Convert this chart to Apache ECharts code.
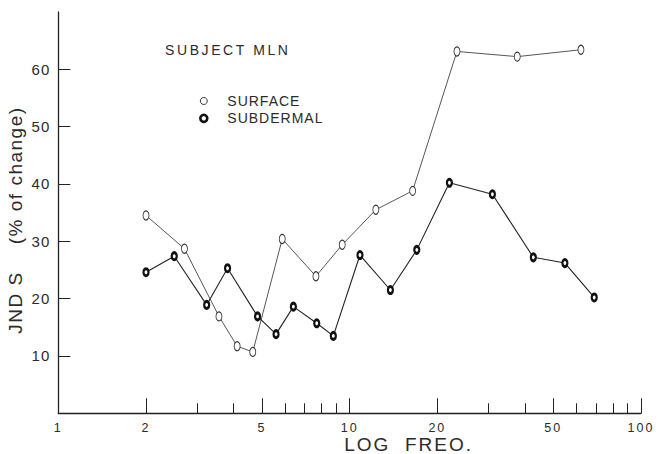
<!DOCTYPE html>
<html>
<head>
<meta charset="utf-8">
<script src="https://cdn.jsdelivr.net/npm/echarts@6/dist/echarts.min.js"></script>
<style>
html,body{margin:0;padding:0;background:#fff;}
#c{width:660px;height:454px;}
#c text{white-space:pre;}
</style>
</head>
<body>
<div id="c"></div>
<script>
// ---- data ----
const surfaceFreq = [2.0, 2.71, 3.56, 4.11, 4.65, 5.87, 7.66, 9.43, 12.3, 16.45, 23.35, 37.6, 62.2];
const surfaceJnd  = [34.5, 28.7, 16.9, 11.7, 10.7, 30.4, 23.9, 29.4, 35.5, 38.8, 63.1, 62.2, 63.4];
const subdermalFreq = [2.0, 2.50, 3.23, 3.81, 4.83, 5.59, 6.41, 7.71, 8.79, 10.85, 13.8, 17.0, 22.0, 30.9, 42.7, 54.8, 69.1];
const subdermalJnd  = [24.6, 27.4, 18.9, 25.3, 16.9, 13.8, 18.6, 15.7, 13.5, 27.6, 21.5, 28.5, 40.2, 38.2, 27.2, 26.2, 20.2];
const xLabelValues = [1, 2, 5, 10, 20, 50, 100];
const xMajorTicks = [2, 5, 10, 20, 50, 100];
const xMinorTicks = [3, 4, 6, 7, 8, 9, 30, 40, 60, 70, 80, 90];
const yTickValues = [10, 20, 30, 40, 50, 60];
const seriesNames = ['SURFACE', 'SUBDERMAL'];
const titleText = 'SUBJECT MLN';
const xName = 'LOG  FREO.';
const yName = 'JND S    (% of change)';

const FONT = 'Liberation Sans';
const INK = '#2b2b2b';
const LINE = '#222';

const surfaceStyle = { color: '#fff', borderColor: '#333', borderWidth: 1 };
const subdermalStyle = { color: '#fff', borderColor: '#111', borderWidth: 2.6 };

const chart = echarts.init(document.getElementById('c'), null, { renderer: 'svg' });

const option = {
  animation: false,
  backgroundColor: '#fff',
  textStyle: { fontFamily: FONT },
  title: {
    text: titleText, left: 165, top: 43, padding: 0,
    textStyle: { fontSize: 14, fontWeight: 'normal', color: INK, fontFamily: FONT }
  },
  legend: {
    orient: 'vertical', left: 199, top: 94, padding: 0,
    itemWidth: 7, itemHeight: 10, itemGap: 3.3, symbolKeepAspect: false,
    selectedMode: false,
    textStyle: { fontSize: 14, color: INK, fontFamily: FONT, padding: [0, 0, 0, 15] },
    data: [
      { name: seriesNames[0], icon: 'circle', itemStyle: surfaceStyle },
      { name: seriesNames[1], icon: 'circle', itemStyle: subdermalStyle }
    ]
  },
  grid: { left: 58.3, right: 19, top: 11.9, bottom: 40.7, containLabel: false, outerBoundsMode: 'none' },
  xAxis: [
    {
      type: 'log', logBase: 10, min: 1, max: 100, position: 'bottom',
      name: xName, nameLocation: 'middle', nameGap: 22, nameMoveOverlap: false,
      nameTextStyle: { fontSize: 19, color: INK, fontFamily: FONT, padding: [0, 0, 0, 118] },
      axisLine: { show: true, lineStyle: { color: LINE, width: 1.3 } },
      axisTick: { show: true, inside: true, length: 15, customValues: xMajorTicks, lineStyle: { color: LINE, width: 1 } },
      axisLabel: { show: true, customValues: xLabelValues, margin: 8, fontSize: 12.5, color: INK, fontFamily: FONT },
      splitLine: { show: false }, minorTick: { show: false }, minorSplitLine: { show: false }
    },
    {
      type: 'log', logBase: 10, min: 1, max: 100, position: 'bottom',
      axisLine: { show: false },
      axisTick: { show: true, inside: true, length: 10, customValues: xMinorTicks, lineStyle: { color: LINE, width: 1 } },
      axisLabel: { show: false },
      splitLine: { show: false }, minorTick: { show: false }
    }
  ],
  yAxis: {
    type: 'value', min: 0, max: 70,
    name: yName, nameLocation: 'middle', nameRotate: 90, nameGap: 33, nameMoveOverlap: false,
    nameTextStyle: { fontSize: 19, color: INK, fontFamily: FONT, padding: [0, 15, 0, 0] },
    axisLine: { show: true, lineStyle: { color: LINE, width: 1.3 } },
    axisTick: { show: true, inside: true, length: 12, customValues: yTickValues, lineStyle: { color: LINE, width: 1 } },
    axisLabel: { show: true, customValues: yTickValues, margin: 8, fontSize: 15, color: INK, fontFamily: FONT },
    splitLine: { show: false }
  },
  series: [
    {
      name: seriesNames[0], type: 'line', xAxisIndex: 0,
      data: surfaceFreq.map((f, i) => [f, surfaceJnd[i]]),
      symbol: 'circle', symbolSize: [6, 9],
      itemStyle: surfaceStyle,
      lineStyle: { color: '#444', width: 0.9 },
      z: 2
    },
    {
      name: seriesNames[1], type: 'line', xAxisIndex: 0,
      data: subdermalFreq.map((f, i) => [f, subdermalJnd[i]]),
      symbol: 'circle', symbolSize: [5, 7],
      itemStyle: subdermalStyle,
      lineStyle: { color: '#222', width: 1.1 },
      z: 3
    }
  ]
};

chart.setOption(option);

function applySpacing() {
  document.querySelectorAll('#c text').forEach(t => {
    const s = (t.textContent || '').trim();
    const st = t.getAttribute('style') || '';
    let ls = null;
    if (s.indexOf('SUBJECT') === 0) ls = 2.6;
    else if (s === 'SURFACE' || s === 'SUBDERMAL') ls = 1;
    else if (s.indexOf('LOG') === 0) ls = 2;
    else if (s.indexOf('JND') === 0) ls = 1.5;
    else if (/^\d+$/.test(s)) ls = st.indexOf('12.5px') >= 0 ? 2 : 1;
    if (ls !== null) t.setAttribute('letter-spacing', ls);
  });
}
applySpacing();
chart.on('finished', applySpacing);
setTimeout(applySpacing, 50);
</script>
</body>
</html>
